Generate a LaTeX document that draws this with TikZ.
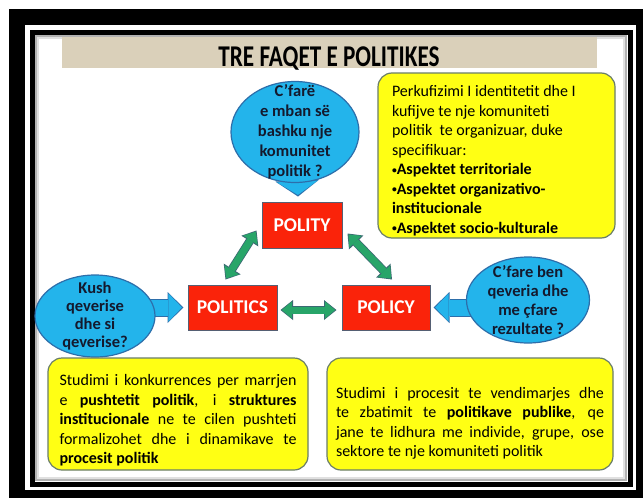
\documentclass[tikz,border=0pt]{standalone}
\usepackage{fontspec}
\usepackage{graphicx}
\setmainfont{Carlito}
\usetikzlibrary{arrows.meta,calc,shapes.geometric}
\pgfdeclarelayer{back}
\pgfsetlayers{back,main}

\definecolor{bubble}{RGB}{35,180,235}
\definecolor{bubbleline}{RGB}{45,110,170}
\definecolor{bubbletext}{RGB}{20,25,45}
\definecolor{boxred}{RGB}{250,35,10}
\definecolor{boxline}{RGB}{85,95,115}
\definecolor{note}{RGB}{255,255,20}
\definecolor{noteline}{RGB}{105,125,105}
\definecolor{link}{RGB}{40,165,105}
\definecolor{linkline}{RGB}{60,105,115}
\definecolor{banner}{RGB}{218,208,186}

\tolerance=9999
\hyphenpenalty=10000
\newcommand{\dotmark}{\raisebox{0.12em}{\scalebox{0.6}{•}}}

\tikzset{
  face/.style={draw=boxline, line width=1pt, fill=boxred, inner sep=0pt,
    text=white, font=\fontsize{19.5}{22}\selectfont\bfseries},
  bubble/.style={ellipse, draw=bubbleline, line width=1.2pt, fill=bubble,
    inner sep=-20pt, align=flush center, text=bubbletext,
    font=\fontsize{16.5}{20}\selectfont\bfseries},
  note/.style={draw=noteline, line width=1.2pt, fill=note, rounded corners=14pt,
    inner ysep=0pt, font=\fontsize{16}{19.5}\selectfont},
  bluerim/.style={line width=18pt, color=bubbleline,
    -{Triangle[width=31pt,length=16pt,line width=0pt]}},
  bluebody/.style={line width=16pt, color=bubble, shorten >=1.6pt,
    -{Triangle[width=28pt,length=13.5pt,line width=0pt]}},
  toprim/.style={line width=25pt, color=bubbleline,
    -{Triangle[width=44pt,length=16pt,line width=0pt]}},
  topbody/.style={line width=23pt, color=bubble, shorten >=1.6pt,
    -{Triangle[width=41pt,length=13.5pt,line width=0pt]}},
  greenrim/.style={line width=8.6pt, color=linkline,
    {Triangle[width=20pt,length=12.5pt,line width=0pt]}-{Triangle[width=20pt,length=12.5pt,line width=0pt]}},
  greenbody/.style={line width=7pt, color=link, shorten >=1.4pt, shorten <=1.4pt,
    {Triangle[width=17pt,length=10pt,line width=0pt]}-{Triangle[width=17pt,length=10pt,line width=0pt]}}
}

\begin{document}
\begin{tikzpicture}[x=1pt,y=1pt]
  \useasboundingbox (0,0) rectangle (643,-498);
  % frame of the slide
  \begin{pgfonlayer}{back}
    \fill[white] (0,0) rectangle (643,-498);
    \fill[black] (9,-9) rectangle (643,-498);
    \fill[white] (25,-25) rectangle (636,-490);
    \draw[black!12, line width=2pt] (38,-38) rectangle (624,-478);
    \draw[black!30, line width=2pt] (36,-36) rectangle (626,-480);
    \draw[line width=5pt] (32.5,-32.5) rectangle (630,-484);
  \end{pgfonlayer}

  % title
  \fill[banner] (62,-37) rectangle (597,-68);
  \node[anchor=base, inner sep=0pt, font=\fontsize{23.2}{26}\selectfont\bfseries] (title)
    at (329,-66.5) {\scalebox{1}[1.3]{TRE FAQET E POLITIKES}};

  % the three faces
  \node[face, minimum width=80pt, minimum height=46pt] (polity) at (302,-225) {POLITY};
  \node[face, minimum width=89pt, minimum height=45pt] (politics) at (232.5,-307.5) {POLITICS};
  \node[face, minimum width=88pt, minimum height=45pt] (policy) at (386,-307.5) {POLICY};

  % questions
  \node[bubble, minimum width=128pt, minimum height=101pt] (qpolity) at (295,-132)
    {C’farë\\ e mban së\\ bashku nje\\ komunitet\\ politik ?};
  \node[bubble, minimum width=120pt, minimum height=82pt,
    font=\fontsize{16.5}{18}\selectfont\bfseries] (qkush) at (95,-316)
    {Kush\\ qeverise\\ dhe si\\ qeverise?};
  \node[bubble, minimum width=123pt, minimum height=86pt,
    font=\fontsize{16.5}{19}\selectfont\bfseries] (qpolicy) at (528,-300)
    {C’fare ben\\ qeveria dhe\\ me çfare\\ rezultate ?};

  % notes
  \node[note, text width=209pt, minimum width=237pt, minimum height=165pt,
    inner xsep=14pt, align=flush left] (idnote) at (496.5,-155.5)
    {\rule{0pt}{22pt}Perkufizimi I identitetit dhe I\\ kufijve te nje komuniteti\\
     politik\ \ te organizuar, duke\\ specifikuar:\\
     \textbf{\dotmark Aspektet territoriale}\\ \textbf{\dotmark Aspektet organizativo-}\\
     \textbf{institucionale}\\ \textbf{\dotmark Aspektet socio-kulturale}};
  \node[note, text width=237pt, minimum width=260pt, minimum height=112pt,
    inner xsep=11.5pt, align=justify] (politicsnote) at (178,-414)
    {\rule{0pt}{24pt}Studimi i konkurrences per marrjen\linebreak
     e \textbf{pushtetit politik}, i \textbf{struktures}\linebreak
     \textbf{institucionale} ne te cilen pushteti\linebreak
     formalizohet dhe i dinamikave te\linebreak
     \textbf{procesit politik}};
  \node[note, text width=268pt, minimum width=286pt, minimum height=112pt,
    inner xsep=9pt, align=justify] (policynote) at (470,-414)
    {\rule{0pt}{30pt}Studimi i procesit te vendimarjes dhe\linebreak
     te zbatimit te \textbf{politikave publike}, qe\linebreak
     jane te lidhura me individe, grupe, ose\linebreak
     sektore te nje komuniteti politik};

  % arrows
  \coordinate (l1a) at ($(politics.north)+(-7,5)$);
  \coordinate (l1b) at ($(polity.south west)+(-5,18)$);
  \coordinate (l2a) at ($(polity.south east)+(5,15)$);
  \coordinate (l2b) at ($(policy.north)+(6,5)$);
  \coordinate (l3a) at ($(politics.east)+(3,-2.5)$);
  \coordinate (l3b) at ($(policy.west)+(-5,-2.5)$);
  \begin{pgfonlayer}{back}
    \draw[toprim] (qpolity.center) -- ($(qpolity.center |- polity.north)+(3,5)$);
    \draw[topbody] (qpolity.center) -- ($(qpolity.center |- polity.north)+(3,5)$);
    \draw[bluerim] (qkush.center |- politics.west) -- ($(politics.west)+(-4,0)$);
    \draw[bluebody] (qkush.center |- politics.west) -- ($(politics.west)+(-4,0)$);
    \draw[bluerim] (qpolicy.center |- policy.east) -- ($(policy.east)+(3,0)$);
    \draw[bluebody] (qpolicy.center |- policy.east) -- ($(policy.east)+(3,0)$);
    \foreach \a/\b in {l1a/l1b, l2a/l2b, l3a/l3b} {
      \draw[greenrim] (\a) -- (\b);
      \draw[greenbody] (\a) -- (\b);
    }
  \end{pgfonlayer}
\end{tikzpicture}
\end{document}
